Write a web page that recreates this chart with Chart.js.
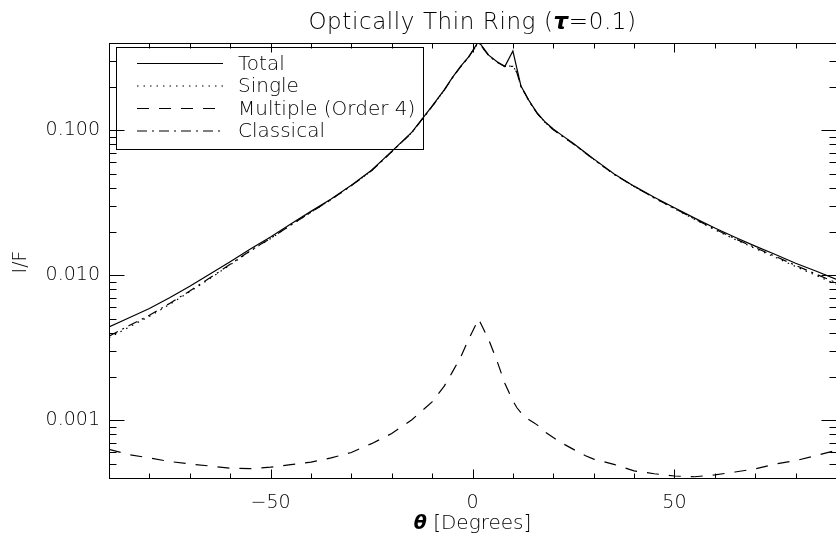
<!DOCTYPE html>
<html>
<head>
<meta charset="utf-8">
<script src="https://cdn.jsdelivr.net/npm/chart.js@4.4.1/dist/chart.umd.min.js"></script>
<style>
  html, body { margin: 0; padding: 0; background: #fff; overflow: hidden; width: 836px; height: 534px; }
  #wrap { position: absolute; left: 0; top: 0; width: 850px; height: 534px; }
</style>
</head>
<body>
<div id="wrap"><canvas id="c"></canvas></div>
<script>
// Scattering angle (degrees)
const angles = [-90, -85, -80, -75, -70, -65, -60, -55, -50, -45, -40, -35, -30, -25, -20, -15, -10, -7, -5, -3, -1, 1.5, 4, 6, 8, 10, 11, 12, 13, 14, 15, 16, 18, 20, 22, 25, 28, 30, 35, 40, 45, 50, 55, 60, 65, 70, 75, 80, 85, 90];

// I/F for each component
const total = [0.0044, 0.0051, 0.0059, 0.0070, 0.0084, 0.0102, 0.0124, 0.0152, 0.0184, 0.0226, 0.0276, 0.0336, 0.0418, 0.0530, 0.0715, 0.097, 0.147, 0.19, 0.231, 0.275, 0.32, 0.41, 0.33, 0.298, 0.275, 0.352, 0.266, 0.202, 0.18, 0.16, 0.145, 0.132, 0.114, 0.102, 0.093, 0.081, 0.070, 0.0635, 0.0502, 0.0412, 0.0345, 0.0292, 0.0248, 0.0212, 0.0183, 0.0159, 0.0139, 0.0121, 0.0107, 0.0094];
const single = [0.0037, 0.0044, 0.0052, 0.0063, 0.0077, 0.0095, 0.0118, 0.0147, 0.0179, 0.0222, 0.0272, 0.0333, 0.0415, 0.0526, 0.0712, 0.0965, 0.146, 0.189, 0.23, 0.273, 0.318, 0.405, 0.328, 0.296, 0.276, 0.278, 0.25, 0.2, 0.179, 0.159, 0.144, 0.131, 0.113, 0.101, 0.092, 0.0805, 0.0695, 0.0630, 0.0498, 0.0410, 0.0342, 0.0288, 0.0243, 0.0206, 0.0177, 0.0153, 0.0133, 0.0115, 0.0100, 0.0087];
const multiple = [0.00063, 0.00058, 0.00055, 0.00052, 0.000500, 0.000484, 0.000468, 0.000464, 0.000475, 0.000494, 0.000515, 0.000550, 0.000600, 0.000690, 0.000810, 0.00101, 0.00134, 0.00172, 0.00215, 0.00270, 0.00360, 0.00500, 0.00360, 0.00260, 0.00180, 0.00136, 0.00122, 0.00113, 0.00107, 0.00101, 0.00097, 0.00093, 0.00083, 0.00076, 0.00070, 0.00063, 0.00057, 0.00054, 0.000497, 0.000448, 0.000428, 0.000413, 0.000408, 0.000420, 0.000440, 0.000462, 0.000500, 0.000527, 0.000570, 0.000620];
const classical = [0.0038, 0.0045, 0.0053, 0.0064, 0.0078, 0.0096, 0.0119, 0.0148, 0.0180, 0.0222, 0.0272, 0.0333, 0.0415, 0.0526, 0.0712, 0.0965, 0.146, 0.189, 0.23, 0.273, 0.318, 0.405, 0.328, 0.296, 0.276, 0.276, 0.25, 0.2, 0.179, 0.159, 0.144, 0.131, 0.113, 0.101, 0.092, 0.0805, 0.0695, 0.0630, 0.0498, 0.0410, 0.0342, 0.0289, 0.0245, 0.0208, 0.0179, 0.0155, 0.0135, 0.0117, 0.0102, 0.0089];

const seriesNames = ['Total', 'Single', 'Multiple (Order 4)', 'Classical'];

// Labelled ticks
const yMajorTicks = [0.001, 0.01, 0.1];
const yTickLabels = ['0.001', '0.010', '0.100'];
const xMajorTicks = [-50, 0, 50];
const xTickLabels = ['\u221250', '0', '50'];

const FAMILY = '"DejaVu Sans", sans-serif';
const WEIGHT = 200;
const INK = '#000';

function pts(vals) { return angles.map((a, i) => ({ x: a, y: vals[i] })); }

function line(ctx, x1, y1, x2, y2) {
  ctx.beginPath(); ctx.moveTo(x1, y1); ctx.lineTo(x2, y2); ctx.stroke();
}

function isMajorY(v) { return yMajorTicks.some(m => Math.abs(v / m - 1) < 1e-6); }

// Frame with inward tick marks on all four sides
const frameTicks = {
  id: 'frameTicks',
  afterDatasetsDraw(chart) {
    const { ctx, chartArea: a, scales: { x, y } } = chart;
    ctx.save();
    ctx.strokeStyle = INK;
    ctx.lineWidth = 1;
    ctx.setLineDash([]);
    const L = Math.round(a.left) + 0.5, R = Math.round(a.right) + 0.5;
    const T = Math.round(a.top) + 0.5, B = Math.round(a.bottom) + 0.5;
    ctx.strokeRect(L, T, R - L, B - T);
    y.ticks.forEach(t => {
      const py = Math.round(y.getPixelForValue(t.value)) + 0.5;
      const len = isMajorY(t.value) ? 15 : 7;
      line(ctx, L, py, L + len, py);
      line(ctx, R, py, R - len, py);
    });
    x.ticks.forEach(t => {
      const px = Math.round(x.getPixelForValue(t.value)) + 0.5;
      const len = xMajorTicks.includes(t.value) ? 9 : 5;
      line(ctx, px, B, px, B - len);
      line(ctx, px, T, px, T + len);
    });
    ctx.restore();
  }
};

// Legend box with line samples
const boxLegend = {
  id: 'boxLegend',
  afterDatasetsDraw(chart) {
    const ctx = chart.ctx;
    ctx.save();
    ctx.strokeStyle = INK;
    ctx.lineWidth = 1;
    ctx.setLineDash([]);
    ctx.strokeRect(116.5, 47.5, 307, 102);
    ctx.font = WEIGHT + ' 20px ' + FAMILY;
    ctx.fillStyle = INK;
    ctx.textBaseline = 'middle';
    chart.data.datasets.forEach((ds, i) => {
      const yy = 63.5 + i * 22.5;
      ctx.lineWidth = ds.borderWidth;
      ctx.setLineDash(ds.borderDash || []);
      line(ctx, 137, yy, 223, yy);
      ctx.setLineDash([]);
      ctx.fillText(ds.label, 238, yy + 1);
    });
    ctx.restore();
  }
};

// Title and axis titles with mixed fonts
function drawParts(ctx, parts, cx, by) {
  let w = 0;
  parts.forEach(p => { ctx.font = p.f; w += ctx.measureText(p.t).width; });
  let xx = cx - w / 2;
  parts.forEach(p => { ctx.font = p.f; ctx.fillText(p.t, xx, by); xx += ctx.measureText(p.t).width; });
}

const titles = {
  id: 'titles',
  afterDraw(chart) {
    const { ctx, chartArea: a } = chart;
    const cx = (a.left + a.right) / 2;
    ctx.save();
    ctx.fillStyle = INK;
    ctx.textBaseline = 'alphabetic';
    ctx.textAlign = 'left';
    ctx.letterSpacing = '0.6px';
    drawParts(ctx, [
      { t: 'Optically Thin Ring (', f: WEIGHT + ' 23px ' + FAMILY },
      { t: '\u03C4', f: 'italic bold 23px ' + FAMILY },
      { t: '=0.1)', f: WEIGHT + ' 23px ' + FAMILY }
    ], cx, 29);
    ctx.letterSpacing = '0px';
    drawParts(ctx, [
      { t: '\u03B8', f: 'italic bold 19px ' + FAMILY },
      { t: ' [Degrees]', f: WEIGHT + ' 20px ' + FAMILY }
    ], cx, 529);
    ctx.translate(21, 262);
    ctx.rotate(-Math.PI / 2);
    ctx.textAlign = 'center';
    ctx.textBaseline = 'middle';
    ctx.font = WEIGHT + ' 19px ' + FAMILY;
    ctx.fillText('I/F', 0, 0);
    ctx.restore();
  }
};

const styles = [
  { borderDash: [] },
  { borderDash: [1.5, 5] },
  { borderDash: [12, 10] },
  { borderDash: [10, 5, 2, 5] }
];
const values = [total, single, multiple, classical];

new Chart(document.getElementById('c'), {
  type: 'line',
  data: {
    datasets: values.map((v, i) => ({
      label: seriesNames[i],
      data: pts(v),
      borderColor: INK,
      borderWidth: 1.2,
      borderDash: styles[i].borderDash,
      pointRadius: 0,
      tension: 0,
      fill: false
    }))
  },
  options: {
    responsive: true,
    maintainAspectRatio: false,
    animation: false,
    layout: { padding: { top: 43, right: 7, left: 0, bottom: 0 } },
    plugins: { legend: { display: false }, title: { display: false }, tooltip: { enabled: false } },
    scales: {
      x: {
        type: 'linear', min: -90, max: 90,
        afterFit(s) { s.height = 56; },
        afterBuildTicks(s) {
          const t = [];
          for (let v = -90; v <= 90; v += 10) t.push({ value: v });
          s.ticks = t;
        },
        ticks: {
          autoSkip: false, maxRotation: 0, padding: 14, color: INK,
          font: { family: FAMILY, size: 19, weight: WEIGHT },
          callback(v) { const k = xMajorTicks.indexOf(v); return k >= 0 ? xTickLabels[k] : ''; }
        },
        grid: { display: false, drawTicks: false },
        border: { display: false }
      },
      y: {
        type: 'logarithmic', min: 0.0004, max: 0.4,
        afterFit(s) { s.width = 109; },
        afterBuildTicks(s) {
          const t = [];
          for (let d = 0.0001; d < 1; d *= 10) {
            for (let m = 1; m <= 9; m++) {
              const v = +(m * d).toPrecision(6);
              if (v >= 0.0004 - 1e-12 && v <= 0.4 + 1e-12) t.push({ value: v });
            }
          }
          s.ticks = t;
        },
        ticks: {
          autoSkip: false, padding: 9, color: INK,
          font: { family: FAMILY, size: 19, weight: WEIGHT },
          callback(v) {
            const k = yMajorTicks.findIndex(m => Math.abs(v / m - 1) < 1e-6);
            return k >= 0 ? yTickLabels[k] : '';
          }
        },
        grid: { display: false, drawTicks: false },
        border: { display: false }
      }
    }
  },
  plugins: [frameTicks, boxLegend, titles]
});
</script>
</body>
</html>
